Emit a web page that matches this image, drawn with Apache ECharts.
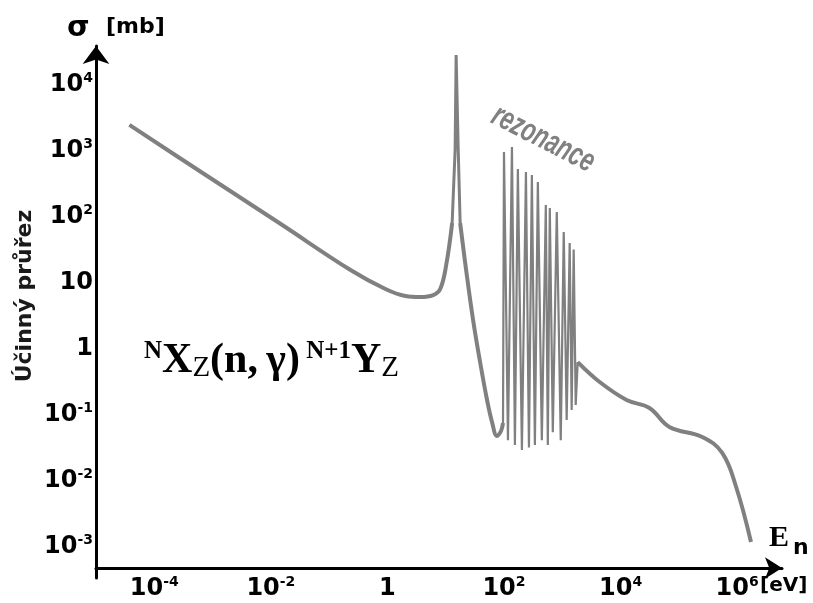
<!DOCTYPE html>
<html lang="cs">
<head>
<meta charset="utf-8">
<script src="https://cdn.jsdelivr.net/npm/echarts@6.0.0/dist/echarts.min.js"></script>
<style>
  html, body { margin: 0; padding: 0; background: #fff; }
  #chart { width: 813px; height: 603px; }
</style>
</head>
<body>
<div id="chart"></div>
<script>
// neutron energy [eV] and capture cross section [mb]
// 1/v part down to the first minimum
var lowEnergy = [3.74e-5, 6.36e-4, 0.0148, 0.233, 0.924, 2.03, 3.66, 6.11, 8.05, 10.2, 12.9];
var lowSigma  = [2400, 464, 75.6, 15.2, 7.83, 6.14, 5.93, 6.35, 7.83, 18.1, 78.3];

// first (isolated) resonance peak
var peakEnergy = [12.9, 14.5, 15.1, 16.4, 17.7];
var peakSigma  = [78.3, 1000, 27500, 1000, 78.3];

// fall after the peak into the dip
var dipEnergy = [17.7, 22.4, 29.5, 38.9, 51.2, 62.3, 75.9, 88.9, 96.2];
var dipSigma  = [78.3, 15.2, 2.66, 0.614, 0.163, 0.0757, 0.0464, 0.0552, 0.073];

// resonance region: alternating peaks and troughs
var resEnergy = [96.2, 100, 117, 137, 154, 173, 203, 238, 268, 301, 339, 381, 446,
                 522, 565, 611, 688, 805, 942, 1060, 1190, 1340, 1450, 1570, 1700, 1840];
var resSigma  = [0.073, 933, 0.040, 1110, 0.034, 515, 0.0285, 464, 0.031, 418, 0.034, 327, 0.040,
                 147, 0.034, 132, 0.053, 115, 0.040, 57, 0.081, 39, 0.115, 31, 0.137, 0.61];

// fast neutron tail
var tailEnergy = [1840, 4380, 12700, 31300, 68900, 252000, 555000, 962000, 1.73e6];
var tailSigma  = [0.61, 0.305, 0.163, 0.123, 0.0636, 0.0449, 0.0257, 0.00783, 0.00115];

var xLabelExps = [-4, -2, 0, 2, 4, 6];
var yLabelExps = [-3, -2, -1, 0, 1, 2, 3, 4];

function pairs(xs, ys) {
  var out = [];
  for (var i = 0; i < xs.length; i++) out.push([xs[i], ys[i]]);
  return out;
}

function powLabel(shown) {
  return function (v) {
    var l = Math.log10(v);
    var e = Math.round(l);
    if (Math.abs(l - e) > 1e-6 || shown.indexOf(e) < 0) return '';
    if (e === 0) return '{b|1}';
    if (e === 1) return '{b|10}';
    return '{b|10}{s|' + e + '}';
  };
}

var labelRich = {
  b: { fontSize: 24, fontWeight: 'bold', fontFamily: 'DejaVu Sans', color: '#000', lineHeight: 26, verticalAlign: 'bottom' },
  s: { fontSize: 14, fontWeight: 'bold', fontFamily: 'DejaVu Sans', color: '#000', lineHeight: 12, verticalAlign: 'top' }
};

var curveColor = '#808080';

function lineSeries(xs, ys, width, smooth) {
  return { type: 'line', data: pairs(xs, ys), showSymbol: false, symbol: 'none', smooth: smooth,
           lineStyle: { color: curveColor, width: width } };
}

var chart = echarts.init(document.getElementById('chart'));
var option = {
  animation: false,
  backgroundColor: '#fff',
  grid: { left: 96, right: 31, top: 46, bottom: 25 },
  xAxis: {
    type: 'log',
    // base 100 puts a tick on every second decade, same positions as base 10
    logBase: 100,
    min: Math.pow(10, -5.0),
    max: Math.pow(10, 6.77),
    offset: -10,
    axisLine: { lineStyle: { color: '#000', width: 3 }, symbol: ['none', 'arrow'], symbolSize: [16, 17] },
    axisTick: { show: false },
    splitLine: { show: false },
    axisLabel: { margin: 7, formatter: powLabel(xLabelExps), rich: labelRich }
  },
  yAxis: {
    type: 'log',
    logBase: 10,
    min: Math.pow(10, -3.485),
    max: Math.pow(10, 4.576),
    axisLine: { lineStyle: { color: '#000', width: 3 }, symbol: ['none', 'arrow'], symbolSize: [20, 18] },
    axisTick: { show: false },
    splitLine: { show: false },
    axisLabel: { margin: 3, formatter: powLabel(yLabelExps), rich: labelRich }
  },
  series: [
    lineSeries(lowEnergy, lowSigma, 4, 0.4),
    lineSeries(peakEnergy, peakSigma, 3, false),
    lineSeries(dipEnergy, dipSigma, 4, 0.4),
    lineSeries(resEnergy, resSigma, 2.2, false),
    lineSeries(tailEnergy, tailSigma, 4, 0.4)
  ],
  graphic: [
    { type: 'text', x: 67, y: 28, style: { text: 'σ', font: 'bold 29px DejaVu Sans', fill: '#000', verticalAlign: 'middle' } },
    { type: 'text', x: 106, y: 27, style: { text: '[mb]', font: 'bold 22px DejaVu Sans', fill: '#000', verticalAlign: 'middle' } },
    { type: 'text', x: 25, y: 296, rotation: Math.PI / 2,
      style: { text: 'Účinný průřez', font: 'bold 22px DejaVu Sans', fill: '#1a1a1a', align: 'center', verticalAlign: 'middle' } },
    { type: 'text', x: 769, y: 538, style: { text: 'E', font: 'bold 30px Liberation Serif', fill: '#000', verticalAlign: 'middle' } },
    { type: 'text', x: 793, y: 548, style: { text: 'n', font: 'bold 22px DejaVu Sans', fill: '#000', verticalAlign: 'middle' } },
    { type: 'text', x: 760, y: 586, style: { text: '[eV]', font: 'bold 20px DejaVu Sans', fill: '#000', verticalAlign: 'middle' } },
    { type: 'text', x: 543, y: 139, rotation: -27 * Math.PI / 180, scaleX: 0.68,
      style: { text: 'rezonance', font: 'italic bold 33px Liberation Sans', fill: '#808080', align: 'center', verticalAlign: 'middle' } },
    { type: 'text', x: 144, y: 361,
      style: {
        text: '{sup|N}{big|X}{sub|Z}{big|(n,\u2009γ)}{sup| N+1}{big|Y}{sub|Z}',
        verticalAlign: 'middle',
        rich: {
          big: { font: 'bold 42px Liberation Serif', fill: '#000', lineHeight: 44, verticalAlign: 'middle' },
          sup: { font: 'bold 25px Liberation Serif', fill: '#000', lineHeight: 19, verticalAlign: 'top' },
          sub: { font: '29px Liberation Serif', fill: '#000', lineHeight: 21, verticalAlign: 'bottom' }
        }
      } }
  ]
};
chart.setOption(option);
</script>
</body>
</html>
